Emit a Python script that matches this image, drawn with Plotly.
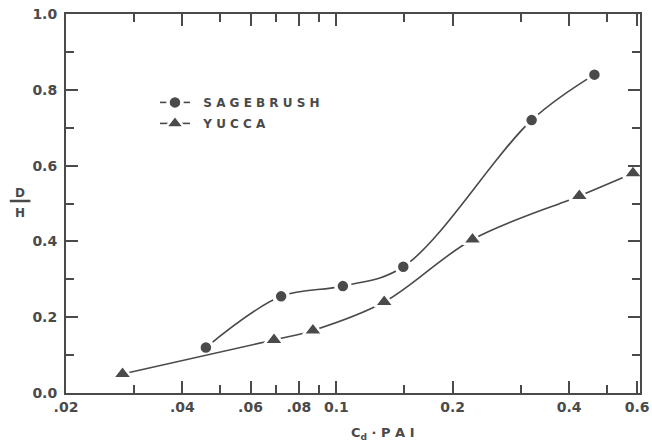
import numpy as np
import plotly.graph_objects as go

# ---- data ----
sage_x = [0.046, 0.072, 0.104, 0.149, 0.32, 0.465]
sage_y = [0.12, 0.255, 0.282, 0.333, 0.72, 0.84]
yucca_x = [0.028, 0.069, 0.087, 0.133, 0.225, 0.425, 0.585]
yucca_y = [0.05, 0.14, 0.165, 0.24, 0.405, 0.52, 0.58]

x_major = [0.02, 0.04, 0.06, 0.08, 0.1, 0.2, 0.4, 0.6]
x_major_text = [".02", ".04", ".06", ".08", "0.1", "0.2", "0.4", "0.6"]
x_minor = [0.03, 0.05, 0.07, 0.09, 0.15, 0.3, 0.5]

INK = "#4a4a4a"
FONT = "DejaVu Sans"

fig = go.Figure()
fig.add_trace(go.Scatter(
    x=sage_x, y=sage_y, mode="lines+markers", name="  S A G E B R U S H",
    legendgroup="a",
    line=dict(color=INK, width=1.6, shape="spline", smoothing=1.0),
    marker=dict(symbol="circle", size=14, color=INK, line=dict(color="white", width=3.5)),
))
fig.add_trace(go.Scatter(
    x=yucca_x, y=yucca_y, mode="lines+markers", name="  Y U C C A",
    legendgroup="b",
    line=dict(color=INK, width=1.6, shape="spline", smoothing=1.0),
    marker=dict(symbol="triangle-up", size=17, color=INK, line=dict(color="white", width=2.5)),
))

axis_common = dict(
    showline=True, linecolor=INK, linewidth=2, mirror="ticks",
    ticks="inside", ticklen=12, tickwidth=1.5, tickcolor=INK,
    showgrid=False, zeroline=False, automargin=False,
    tickfont=dict(family=FONT, size=14, color=INK, weight="bold"),
)

fig.update_xaxes(
    type="log", range=[np.log10(0.02), np.log10(0.61)],
    tickmode="array", tickvals=x_major, ticktext=x_major_text,
    minor=dict(tickmode="array", tickvals=x_minor, ticks="inside", ticklen=8,
               tickwidth=1.5, tickcolor=INK, showgrid=False),
    **axis_common,
)
fig.update_yaxes(
    range=[0, 1.0], tickmode="linear", tick0=0, dtick=0.2, tickformat=".1f",
    minor=dict(tickmode="linear", tick0=0, dtick=0.1, ticks="inside", ticklen=8,
               tickwidth=1.5, tickcolor=INK, showgrid=False),
    ticklabelstandoff=4,
    **axis_common,
)

# axis titles
fig.add_annotation(x=0.553, y=-0.108, xref="paper", yref="paper",
                   xanchor="center", yanchor="middle",
                   text="C<sub>d</sub> · P A I", showarrow=False,
                   font=dict(family=FONT, size=13, color=INK, weight="bold"))
fig.add_annotation(x=-0.0796, y=0.529, xref="paper", yref="paper", text="D",
                   xanchor="center", yanchor="middle",
                   showarrow=False, font=dict(family=FONT, size=12, color=INK, weight="bold"))
fig.add_annotation(x=-0.0796, y=0.476, xref="paper", yref="paper", text="H",
                   xanchor="center", yanchor="middle",
                   showarrow=False, font=dict(family=FONT, size=12, color=INK, weight="bold"))
fig.add_shape(type="line", xref="paper", yref="paper", x0=-0.098, x1=-0.062,
              y0=0.5066, y1=0.5066, line=dict(color=INK, width=2.5))

fig.update_layout(
    width=652, height=447,
    margin=dict(l=66, r=12, t=14, b=54),
    paper_bgcolor="white", plot_bgcolor="white",
    showlegend=True,
    legend=dict(x=0.155, y=0.805, xanchor="left", yanchor="top",
                bgcolor="rgba(0,0,0,0)", tracegroupgap=2,
                font=dict(family=FONT, size=12, color=INK, weight="bold")),
)

fig.write_html("out.html")
